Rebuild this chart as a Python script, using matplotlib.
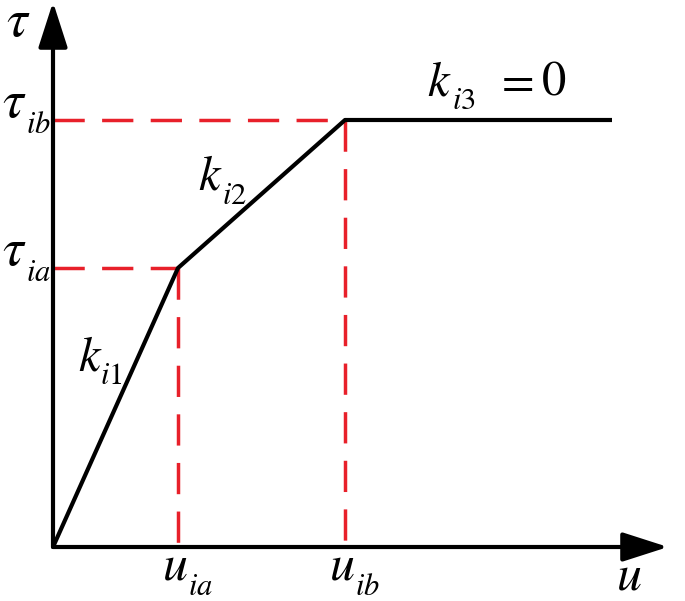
import matplotlib
matplotlib.use("Agg")
import matplotlib.pyplot as plt

plt.rcParams['mathtext.fontset'] = 'stix'
plt.rcParams['font.family'] = ['STIXGeneral', 'Liberation Serif', 'DejaVu Serif']

# curve data (arbitrary units)
u_pts = [0.0, 1.25, 2.92, 5.59]
tau_pts = [0.0, 2.79, 4.27, 4.27]
u_axis_end = 6.15
tau_axis_end = 5.45
u_subs = ['ia', 'ib']
tau_subs = ['ia', 'ib']
k_subs = ['i1', 'i2', 'i3']
k3_value = '0'

fig = plt.figure(figsize=(6.85, 6.01), dpi=100)
ax = fig.add_axes([0, 0, 1, 1])
ax.set_xlim(-0.53, 6.32)
ax.set_ylim(-0.54, 5.47)
ax.axis('off')

red = '#e8202a'
for i in (1, 2):
    ax.plot([0, u_pts[i]], [tau_pts[i], tau_pts[i]], color=red, lw=2.5, dashes=(9, 5))
    ax.plot([u_pts[i], u_pts[i]], [tau_pts[i], 0], color=red, lw=2.5, dashes=(9, 5))

ax.plot(u_pts, tau_pts, color='black', lw=3.0, solid_capstyle='butt', zorder=3)

ap = dict(arrowstyle='-|>,head_length=1.4,head_width=0.45', lw=3, color='black',
          shrinkA=0, shrinkB=0, mutation_scale=20)
ax.annotate('', xy=(u_axis_end, 0), xytext=(0, 0), arrowprops=ap)
ax.annotate('', xy=(0, tau_axis_end), xytext=(0, 0), arrowprops=ap)


def put(anchor, dx, dy, s, fs):
    ax.annotate(s, xy=anchor, xytext=(dx, dy), textcoords='offset pixels',
                fontsize=fs, ha='left', va='baseline')


def label(anchor, dx, dy, main, sub, fs_main, fs_sub, sdx, sdy):
    put(anchor, dx, dy, main, fs_main)
    put(anchor, dx + sdx, dy + sdy, r'$\mathit{%s}$' % sub, fs_sub)


# tau labels
put((0, tau_axis_end), -47, -34, r'$\tau$', 38)
for i, sub in zip((1, 2), tau_subs):
    label((0, tau_pts[i]), -51, 3, r'$\tau$', sub, 38, 22, 24, -16)

# u labels
for i, sub in zip((1, 2), u_subs):
    label((u_pts[i], 0), -16, -33, r'$u$', sub, 36, 22, 26, -15)
put((u_axis_end, 0), -52, -43, r'$u$', 36)

# slope labels
mid = lambda a, b: ((u_pts[a] + u_pts[b]) / 2, (tau_pts[a] + tau_pts[b]) / 2)
label(mid(0, 1), -38, 37, r'$k$', k_subs[0], 35, 22, 23, -14)
label(mid(1, 2), -64, 4, r'$k$', k_subs[1], 35, 22, 24, -14)
label(mid(2, 3), -51, 25, r'$k$', k_subs[2], 35, 22, 25, -14)
put(mid(2, 3), 17, 25, r'$=$', 34)
put(mid(2, 3), 63, 25, k3_value, 35)

fig.savefig('out.png', dpi=100)
